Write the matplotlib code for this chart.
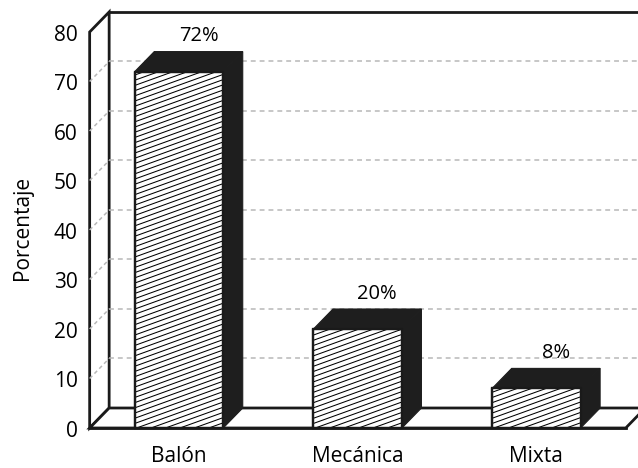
import matplotlib
matplotlib.use("Agg")
import matplotlib.pyplot as plt
from matplotlib.patches import Polygon
from matplotlib.collections import LineCollection
import numpy as np

# Data
categories = ["Balón", "Mecánica", "Mixta"]
values = [72, 20, 8]
yticks = [0, 10, 20, 30, 40, 50, 60, 70, 80]
ylabel = "Porcentaje"

plt.rcParams["font.family"] = ["Open Sans", "DejaVu Sans"]
FS = 15

fig = plt.figure(figsize=(6.38, 4.68), dpi=100)
ax = fig.add_axes([0, 0, 1, 1])
ax.set_xlim(-1.0017, 2.5686)
ax.set_ylim(-8.08, 86.46)
ax.axis("off")

# pixel scale of one data unit (used for depth and hatch geometry)
SX = 638 / (2.5686 + 1.0017)
SY = 468 / (86.46 + 8.08)

DX = 19.5 / SX          # depth offset, x
DY = 20.0 / SY          # depth offset, y
x0, x1 = -0.5, len(categories) - 0.5
ymax = yticks[-1]
BW = 0.495

edge = "#1a1a1a"
dark = "#1e1e1e"
grid_c = "#b8b8b8"
LW = 2.0

# Walls and floor
left_wall = Polygon([(x0, 0), (x0, ymax), (x0 + DX, ymax + DY), (x0 + DX, DY)],
                    closed=True, facecolor="white", edgecolor=edge, lw=LW,
                    joinstyle="miter", zorder=1)
ax.add_patch(left_wall)
floor = Polygon([(x0, 0), (x1, 0), (x1 + DX, DY), (x0 + DX, DY)],
                closed=True, facecolor="white", edgecolor=edge, lw=LW,
                joinstyle="miter", zorder=1)
ax.add_patch(floor)
ax.plot([x0 + DX, x1 + DX + 1], [ymax + DY, ymax + DY], color=edge, lw=LW,
        solid_capstyle="projecting", zorder=2)
ax.plot([x1 + DX, x1 + DX], [DY, ymax + DY], color=edge, lw=LW, zorder=2)

# Gridlines on back and side walls
for t in yticks[1:-1]:
    ax.plot([x0 + DX, x1 + DX], [t + DY, t + DY], color=grid_c, lw=1.1,
            linestyle=(0, (3.2, 2.6)), zorder=1.5)
    ax.plot([x0, x0 + DX], [t, t + DY], color=grid_c, lw=1.1,
            linestyle=(0, (2.5, 2.0)), zorder=1.5)

# Bars
xs = np.arange(len(categories))
bars = ax.bar(xs, values, width=BW, color="white", edgecolor=edge,
              linewidth=1.6, zorder=3)
slope_px = 0.36
pitch_px = 5.2
for rect, v in zip(bars, values):
    xl = rect.get_x()
    xr = xl + rect.get_width()
    top = Polygon([(xl, v), (xr, v), (xr + DX, v + DY), (xl + DX, v + DY)],
                  closed=True, facecolor=dark, edgecolor=dark, lw=0.8, zorder=3)
    side = Polygon([(xr, 0), (xr, v), (xr + DX, v + DY), (xr + DX, DY)],
                   closed=True, facecolor=dark, edgecolor=dark, lw=0.8, zorder=3)
    ax.add_patch(top)
    ax.add_patch(side)
    # diagonal hatching on the front face
    slope = slope_px * SX / SY
    pitch = pitch_px / SY
    span = slope * (xr - xl)
    starts = np.arange(-span, v, pitch)
    segs = [[(xl, s), (xr, s + span)] for s in starts]
    lc = LineCollection(segs, colors="black", linewidths=0.75, zorder=3.5)
    ax.add_collection(lc, autolim=False)
    clip = Polygon([(xl, 0), (xr, 0), (xr, v), (xl, v)], closed=True,
                   transform=ax.transData)
    lc.set_clip_path(clip)
    ax.plot([xl, xr, xr, xl, xl], [0, 0, v, v, 0], color=edge, lw=1.6,
            zorder=4)
    ax.annotate(f"{v}%", (rect.get_x() + rect.get_width() / 2 + DX, v + DY),
                xytext=(0, 7.5), textcoords="offset points", ha="center",
                va="baseline", fontsize=FS - 0.5)

ax.plot([x0, x1], [0, 0], color=edge, lw=LW, zorder=4.5)

# Tick labels on the front edge of the side wall
for t in yticks:
    ax.annotate(str(t), (x0, t), xytext=(-8.6, -6.3),
                textcoords="offset points", ha="right", va="baseline",
                fontsize=FS)

# Category labels
for i, c in enumerate(categories):
    ax.annotate(c, (xs[i], 0), xytext=(0, -24.5), textcoords="offset points",
                ha="center", va="baseline", fontsize=FS)

ax.text(-0.878, 40.5, ylabel, rotation=90, ha="center", va="center",
        fontsize=FS)

fig.savefig("out.png", dpi=100)
